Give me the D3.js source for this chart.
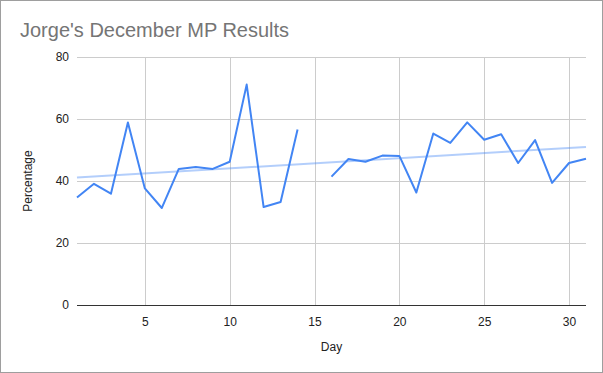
<!DOCTYPE html>
<html><head><meta charset="utf-8">
<script src="https://cdn.jsdelivr.net/npm/d3@7"></script>
<style>
html,body{margin:0;padding:0;background:#fff;}
svg{display:block;font-family:"Liberation Sans",Arial,sans-serif;}
</style></head>
<body><svg id="c" width="603" height="373"></svg>
<script>
const days = [1,2,3,4,5,6,7,8,9,10,11,12,13,14,15,16,17,18,19,20,21,22,23,24,25,26,27,28,29,30,31];
const values = [34.7,39.1,35.9,58.9,37.6,31.3,43.9,44.5,43.9,46.2,71.1,31.6,33.2,56.6,null,41.4,47.1,46.2,48.2,48.1,36.3,55.3,52.3,58.9,53.3,55.1,45.8,53.2,39.4,45.8,47.2];
const xTicks = [5,10,15,20,25,30];
const yTicks = [0,20,40,60,80];

const svg = d3.select("#c");
const W=603,H=373;
svg.append("rect").attr("x",0.5).attr("y",0.5).attr("width",W-1).attr("height",H-1).attr("fill","#fff").attr("stroke","#9e9e9e");

const x = d3.scaleLinear().domain([1,31]).range([77,586]);
const y = d3.scaleLinear().domain([0,80]).range([305,57]);

// gridlines
svg.append("g").selectAll("line").data(yTicks.filter(d=>d>0)).join("line")
  .attr("x1",x(1)).attr("x2",x(31)).attr("y1",d=>Math.round(y(d))+0.5).attr("y2",d=>Math.round(y(d))+0.5)
  .attr("stroke","#cccccc");
svg.append("g").selectAll("line").data(xTicks).join("line")
  .attr("x1",d=>Math.round(x(d))+0.5).attr("x2",d=>Math.round(x(d))+0.5).attr("y1",y(80)).attr("y2",y(0))
  .attr("stroke","#cccccc");

// axes labels via d3 axes
const yAxis = svg.append("g").attr("transform",`translate(${x(1)-8},0)`)
  .call(d3.axisLeft(y).tickValues(yTicks).tickSize(0).tickPadding(0));
yAxis.select(".domain").remove();
yAxis.selectAll("text").attr("font-size",12).attr("fill","#222").attr("font-family","Liberation Sans, Arial");

const xAxis = svg.append("g").attr("transform",`translate(0,${y(0)+8})`)
  .call(d3.axisBottom(x).tickValues(xTicks).tickSize(0).tickPadding(4));
xAxis.select(".domain").remove();
xAxis.selectAll("text").attr("font-size",12).attr("fill","#222").attr("font-family","Liberation Sans, Arial");

// baseline
svg.append("line").attr("x1",x(1)).attr("x2",x(31)).attr("y1",Math.round(y(0))+0.5).attr("y2",Math.round(y(0))+0.5).attr("stroke","#333");

// trendline (least squares)
const pts = days.map((d,i)=>[d,values[i]]).filter(p=>p[1]!=null);
const n=pts.length, mx=d3.mean(pts,p=>p[0]), my=d3.mean(pts,p=>p[1]);
const slope=d3.sum(pts,p=>(p[0]-mx)*(p[1]-my))/d3.sum(pts,p=>(p[0]-mx)**2);
const icpt=my-slope*mx;
svg.append("line").attr("x1",x(1)).attr("x2",x(31)).attr("y1",y(icpt+slope*1)).attr("y2",y(icpt+slope*31))
  .attr("stroke","#4285f4").attr("stroke-opacity",0.4).attr("stroke-width",2);

// data line
const line = d3.line().defined(d=>d[1]!=null).x(d=>x(d[0])).y(d=>y(d[1]));
svg.append("path").datum(days.map((d,i)=>[d,values[i]])).attr("d",line)
  .attr("fill","none").attr("stroke","#4285f4").attr("stroke-width",2).attr("stroke-linejoin","round");

// title
svg.append("text").attr("x",20).attr("y",37).attr("font-size",20).attr("fill","#757575").text("Jorge's December MP Results");
svg.append("text").attr("x",(x(1)+x(31))/2).attr("y",351).attr("text-anchor","middle").attr("font-size",12).attr("fill","#222").text("Day");
svg.append("text").attr("transform",`translate(32,${y(40)}) rotate(-90)`).attr("text-anchor","middle").attr("font-size",12).attr("fill","#222").text("Percentage");
</script></body></html>
